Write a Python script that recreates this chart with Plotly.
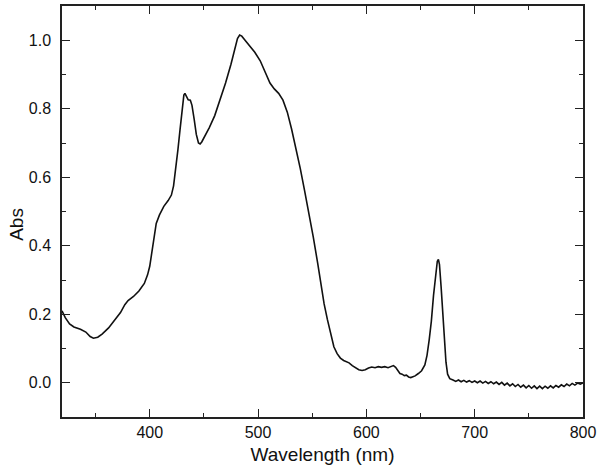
"""UV-Vis absorbance spectrum."""

import plotly.graph_objects as go

wavelength = [
    319, 322, 326, 330, 336, 341, 345, 348, 352, 356, 362, 368, 373, 377, 380,
    385, 390, 395, 398, 400, 402, 404, 406, 409, 413, 417, 420, 422, 424, 426,
    428, 430, 431.5, 432.5, 434, 435.5, 437.5, 439, 441, 443, 445, 446.5, 448,
    451, 455, 460, 465, 470, 475, 478, 481, 483, 485, 488, 492, 497, 502, 507,
    511, 515, 519, 523, 527, 531, 535, 539, 543, 547, 551, 555, 558, 561, 564,
    567, 570, 573, 576, 579, 582, 584, 587, 590, 593, 596, 599, 602, 605, 608,
    611, 614, 617, 620, 623, 625, 627, 629, 631, 633, 635, 637, 639, 641, 643,
    645, 648, 651, 654, 656, 658, 660, 662, 664, 665.5, 666.5, 667.5, 669,
    670.5, 672, 673.5, 675, 677, 680,
    682.5, 685, 687.5, 690, 692.5, 695, 697.5, 700, 702.5, 705, 707.5, 710,
    712.5, 715, 717.5, 720, 722.5, 725, 727.5, 730, 732.5, 735, 737.5, 740,
    742.5, 745, 747.5, 750, 752.5, 755, 757.5, 760, 762.5, 765, 767.5, 770,
    772.5, 775, 777.5, 780, 782.5, 785, 787.5, 790, 792.5, 795, 797.5, 800,
]

absorbance = [
    0.210, 0.190, 0.172, 0.163, 0.156, 0.148, 0.135, 0.130, 0.133, 0.142,
    0.160, 0.183, 0.205, 0.228, 0.240, 0.252, 0.268, 0.290, 0.315, 0.340,
    0.385, 0.430, 0.465, 0.490, 0.515, 0.532, 0.548, 0.575, 0.620, 0.680,
    0.740, 0.805, 0.840, 0.845, 0.835, 0.826, 0.825, 0.810, 0.770, 0.725,
    0.700, 0.697, 0.703, 0.720, 0.745, 0.780, 0.825, 0.875, 0.930, 0.970,
    1.005, 1.015, 1.012, 1.000, 0.985, 0.965, 0.940, 0.905, 0.875, 0.858,
    0.845, 0.825, 0.790, 0.740, 0.685, 0.625, 0.560, 0.495, 0.425, 0.350,
    0.285, 0.230, 0.185, 0.140, 0.105, 0.085, 0.072, 0.065, 0.062, 0.058,
    0.050, 0.044, 0.038, 0.036, 0.038, 0.043, 0.046, 0.044, 0.047, 0.045,
    0.047, 0.044, 0.048, 0.050, 0.045, 0.035, 0.027, 0.025, 0.021, 0.022,
    0.017, 0.015, 0.018, 0.020, 0.027, 0.035, 0.052, 0.080, 0.125, 0.180,
    0.255, 0.325, 0.355, 0.360, 0.345, 0.280, 0.200, 0.120, 0.060, 0.025,
    0.012, 0.008,
    0.004, 0.008, 0.003, 0.007, 0.002, 0.006, 0.001, 0.005, 0.000, 0.005,
    -0.001, 0.004, -0.002, 0.003, -0.003, 0.002, -0.005, 0.001, -0.007,
    -0.001, -0.009, -0.003, -0.011, -0.005, -0.013, -0.007, -0.015, -0.008,
    -0.016, -0.009, -0.017, -0.010, -0.017, -0.010, -0.016, -0.009, -0.015,
    -0.008, -0.013, -0.006, -0.011, -0.004, -0.009, -0.002, -0.007, -0.001,
    -0.004, 0.000,
]

x_ticks = [400, 500, 600, 700, 800]
y_ticks = [0.0, 0.2, 0.4, 0.6, 0.8, 1.0]

font_family = "Liberation Sans, Arial, sans-serif"
axis_color = "#222222"

fig = go.Figure()
fig.add_trace(
    go.Scatter(
        x=wavelength,
        y=absorbance,
        mode="lines",
        line=dict(color="#111111", width=1.6),
        showlegend=False,
    )
)

axis_common = dict(
    showline=True,
    linecolor=axis_color,
    linewidth=1.5,
    mirror="ticks",
    ticks="inside",
    ticklen=8,
    tickwidth=1.3,
    tickcolor=axis_color,
    showgrid=False,
    zeroline=False,
    automargin=False,
    tickfont=dict(family=font_family, size=16, color="#111111"),
)

fig.update_xaxes(
    range=[319, 800],
    tickvals=x_ticks,
    ticktext=[str(v) for v in x_ticks],
    minor=dict(ticks="inside", ticklen=4, tickwidth=1.3, tickcolor=axis_color, dtick=50, tick0=350),
    title=dict(text="Wavelength (nm)", font=dict(family=font_family, size=19, color="#111111"), standoff=8),
    **axis_common,
)
fig.update_yaxes(
    range=[-0.1, 1.1],
    tickvals=y_ticks,
    ticktext=[f"{v:.1f}" for v in y_ticks],
    ticklabelstandoff=6,
    minor=dict(ticks="inside", ticklen=4, tickwidth=1.3, tickcolor=axis_color, dtick=0.2, tick0=0.1),
    **axis_common,
)

fig.update_layout(
    width=600,
    height=473,
    margin=dict(l=62, r=17, t=6, b=56),
    paper_bgcolor="white",
    plot_bgcolor="white",
    annotations=[
        dict(
            text="Abs",
            xref="paper",
            yref="paper",
            x=-0.088,
            y=0.468,
            xanchor="center",
            yanchor="middle",
            textangle=-90,
            showarrow=False,
            font=dict(family=font_family, size=19, color="#111111"),
        )
    ],
)

fig.write_html(
    "out.html",
    config={"displayModeBar": False},
    post_script="document.body.style.margin='0';",
)
